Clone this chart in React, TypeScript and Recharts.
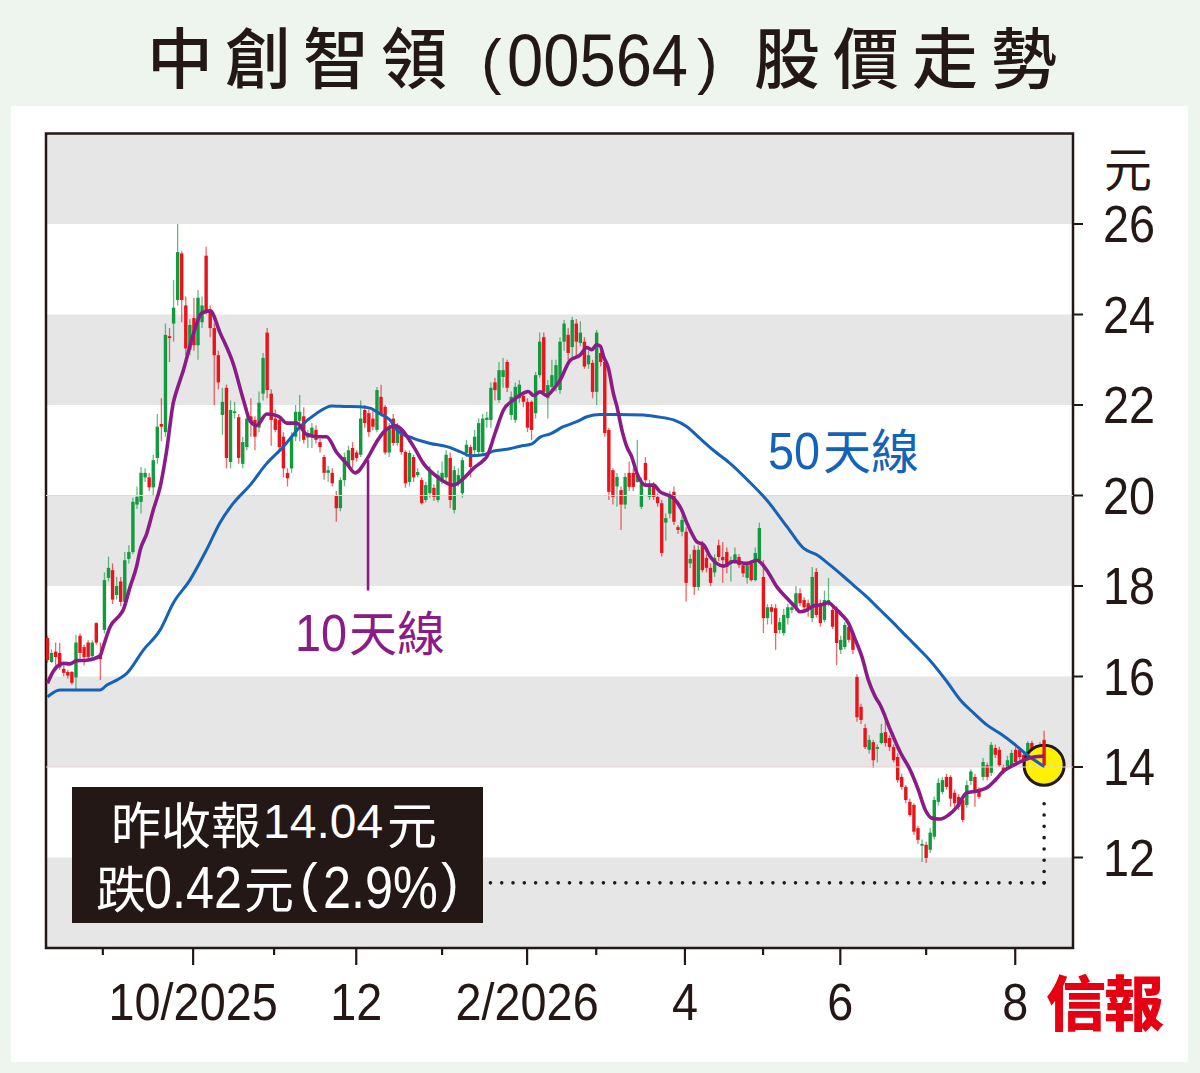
import React from 'react';
import { ComposedChart, Bar, Line, XAxis, YAxis, ReferenceArea, ReferenceLine } from 'recharts';

// Daily candles: [open, high, low, close]
const ohlc: number[][] = [
  [16.85,16.9,16.3,16.36],[16.32,16.6,16.3,16.52],[16.55,16.75,16.14,16.43],[16.52,16.74,16.15,16.2],[16.17,16.25,16.0,16.08],
  [16.1,16.15,15.95,16.02],[16.1,16.12,15.82,15.86],[15.98,16.92,15.7,16.75],[16.9,16.95,16.4,16.52],[16.65,16.7,16.25,16.43],
  [16.75,16.8,16.35,16.43],[16.45,16.8,16.4,16.75],[17.18,17.2,16.7,16.75],[16.5,16.75,15.92,16.38],[17.03,18.3,16.95,18.13],
  [18.18,18.65,18.1,18.4],[18.35,18.5,17.6,17.7],[17.8,18.2,17.7,18.0],[18.1,18.2,17.55,17.65],[17.65,18.75,17.5,18.57],
  [18.6,18.9,18.5,18.75],[18.75,19.95,18.7,19.86],[19.8,20.2,19.7,19.97],[19.86,20.63,19.6,20.5],[20.4,20.6,20.3,20.5],
  [20.4,20.5,20.1,20.18],[20.18,20.9,20.0,20.78],[20.83,21.8,20.7,21.52],[21.58,22.15,21.2,21.52],[21.4,23.8,21.3,23.55],
  [23.52,23.7,22.95,23.48],[23.8,24.76,23.4,24.15],[24.32,26.0,24.2,25.38],[25.35,25.4,23.83,24.32],[24.2,24.4,23.1,23.25],
  [23.22,23.9,23.1,23.77],[23.92,24.37,23.2,23.32],[23.32,24.54,23.0,24.37],[23.83,24.4,23.7,24.2],[25.3,25.5,24.0,24.1],
  [24.1,24.2,23.5,23.7],[23.7,23.8,22.0,23.1],[23.1,23.2,22.35,22.5],[21.78,22.38,21.34,22.07],[22.38,22.45,20.6,20.83],
  [20.74,22.1,20.6,21.89],[21.82,22.07,21.7,21.86],[21.73,21.8,20.7,20.83],[20.7,21.3,20.6,21.18],[21.07,21.95,21.0,21.7],
  [21.75,22.15,21.3,21.6],[21.67,21.75,21.0,21.3],[21.5,22.3,21.4,22.05],[22.25,23.15,22.1,23.04],[23.6,23.7,22.15,22.33],
  [22.25,22.35,21.1,21.67],[21.7,21.9,21.4,21.45],[21.67,21.7,20.95,21.07],[21.3,21.4,20.4,20.6],[20.5,20.6,20.2,20.38],
  [20.6,21.4,20.5,21.3],[21.3,22.0,21.2,21.85],[21.65,22.22,21.2,21.85],[21.75,21.95,21.15,21.23],[21.28,21.45,21.05,21.38],
  [21.3,21.6,21.05,21.5],[21.45,21.55,21.15,21.23],[21.18,21.25,20.95,21.07],[20.85,20.9,20.35,20.5],[20.5,20.65,20.3,20.56],
  [20.5,20.6,20.2,20.27],[20.0,20.1,19.42,19.72],[19.72,20.4,19.65,20.34],[20.34,20.95,20.2,20.85],[20.67,21.1,20.6,21.0],
  [21.05,21.18,20.6,20.78],[20.95,21.0,20.75,20.83],[20.9,22.1,20.85,21.7],[21.89,22.0,21.5,21.6],[21.82,21.9,21.3,21.4],
  [21.7,21.9,21.45,21.52],[21.45,22.4,21.4,22.33],[22.18,22.45,21.75,21.8],[21.96,22.0,20.9,20.95],[20.95,21.6,20.85,21.5],
  [21.7,21.8,21.1,21.16],[21.16,21.6,21.1,21.5],[21.45,21.5,20.9,20.96],[20.96,21.0,20.17,20.27],[20.3,21.0,20.2,20.94],
  [20.85,20.9,20.3,20.4],[20.45,20.6,20.4,20.52],[20.34,20.4,19.8,19.83],[19.9,20.3,19.85,20.23],[20.05,20.65,19.95,20.56],
  [20.17,20.25,19.88,19.97],[19.9,20.56,19.85,20.45],[20.3,20.75,20.25,20.5],[20.4,21.0,20.3,20.9],[20.83,20.95,19.72,19.9],
  [19.68,20.65,19.6,20.56],[20.3,20.6,20.2,20.45],[20.05,20.85,19.95,20.78],[20.94,21.23,20.85,21.12],[21.07,21.12,20.4,20.63],
  [21.0,21.45,20.9,21.3],[20.96,21.7,20.9,21.6],[20.96,21.8,20.9,21.7],[21.67,21.85,21.5,21.72],[21.67,22.5,21.5,22.38],
  [22.5,22.6,22.1,22.33],[22.11,22.95,22.05,22.77],[22.62,23.04,22.38,22.77],[22.95,23.0,22.29,22.38],[21.78,22.3,21.67,22.18],
  [21.67,22.5,21.6,22.4],[22.15,22.55,22.05,22.45],[22.2,22.3,21.95,22.07],[22.07,22.15,21.4,21.5],[22.07,22.1,21.23,21.45],
  [21.82,22.73,21.7,22.66],[22.66,23.6,22.6,23.4],[23.5,23.6,22.2,22.29],[22.15,22.55,21.7,22.44],[22.4,23.0,22.3,22.66],
  [22.44,23.0,22.3,22.88],[22.33,23.5,22.25,23.4],[23.4,23.88,23.2,23.8],[23.55,23.7,23.0,23.15],[23.28,23.95,23.0,23.88],
  [23.8,23.9,23.05,23.4],[23.37,23.85,23.3,23.6],[23.4,23.5,22.8,22.85],[22.9,23.2,22.8,23.1],[22.93,23.0,22.15,22.29],
  [22.29,23.66,22.0,23.6],[23.15,23.3,22.85,22.95],[22.95,23.0,21.3,21.38],[21.45,21.5,19.9,20.08],[20.56,20.6,19.8,19.97],
  [20.2,20.5,19.75,20.41],[20.12,20.2,19.24,19.8],[19.8,20.5,19.7,20.41],[20.5,20.75,20.1,20.19],[20.5,20.6,20.1,20.19],
  [20.3,21.23,20.28,20.5],[19.75,20.4,19.7,20.27],[20.72,20.85,20.2,20.34],[19.97,20.35,19.9,20.23],[20.23,20.3,19.9,19.97],
  [19.97,20.05,19.75,19.83],[19.83,19.9,18.65,18.73],[19.4,19.6,19.0,19.5],[19.6,20.1,19.5,19.97],[20.08,20.2,19.35,19.42],
  [19.3,19.35,19.15,19.24],[19.2,19.55,19.1,19.46],[19.2,19.3,17.65,18.07],[18.5,18.7,18.4,18.6],[18.8,18.9,17.8,17.98],
  [17.98,18.9,17.9,18.8],[18.9,19.0,18.3,18.35],[18.62,18.7,18.3,18.4],[18.4,18.5,18.0,18.07],[18.3,18.7,18.2,18.62],
  [18.9,19.02,18.55,18.64],[18.64,18.97,18.07,18.57],[18.75,18.85,18.28,18.42],[18.5,18.65,18.1,18.57],[18.57,18.85,18.5,18.7],
  [18.64,18.7,18.4,18.46],[18.46,18.5,18.2,18.28],[18.18,18.5,18.05,18.46],[18.5,18.55,18.1,18.13],[18.13,18.85,18.1,18.73],
  [18.57,19.4,18.5,19.28],[18.2,18.57,16.96,17.29],[17.29,17.6,17.15,17.53],[17.53,17.6,17.15,17.43],[17.51,17.6,16.59,16.96],
  [17.03,17.3,16.95,17.2],[16.96,17.5,16.9,17.36],[17.29,17.6,17.15,17.53],[17.47,17.6,17.4,17.53],[17.53,18.0,17.45,17.84],
  [17.84,17.95,17.55,17.62],[17.69,17.75,17.45,17.53],[17.62,17.7,17.32,17.47],[17.29,18.42,17.2,18.2],[18.31,18.4,17.3,17.36],
  [17.62,17.7,17.1,17.18],[17.25,17.9,17.2,17.69],[17.62,18.18,17.55,17.69],[17.47,17.55,17.05,17.1],[17.47,17.55,16.25,16.74],
  [16.59,16.9,16.5,16.81],[16.65,17.2,16.6,17.14],[17.1,17.15,16.75,16.81],[16.96,17.0,16.5,16.59],[15.99,16.05,15.0,15.1],
  [15.33,15.4,14.95,15.04],[14.86,14.95,14.4,14.44],[14.38,14.7,14.3,14.6],[14.55,14.6,13.98,14.15],[14.4,14.5,14.1,14.44],
  [14.53,14.95,14.5,14.75],[14.77,15.2,14.45,14.53],[14.64,14.7,14.35,14.44],[14.44,14.5,14.1,14.15],[14.22,14.3,13.65,13.71],
  [13.78,13.85,13.5,13.56],[13.56,13.6,13.2,13.27],[13.23,13.3,12.9,12.94],[13.16,13.2,12.5,12.57],[12.65,12.7,12.3,12.39],
  [12.26,12.4,11.9,12.3],[12.28,12.35,11.88,11.99],[12.17,12.65,12.1,12.55],[12.46,13.35,12.4,13.27],[13.23,13.75,13.15,13.65],
  [13.45,13.78,13.4,13.71],[13.78,13.85,13.5,13.56],[13.78,13.82,13.12,13.3],[13.43,13.5,13.1,13.2],[13.34,13.4,13.05,13.12],
  [13.27,13.3,12.78,12.83],[13.16,13.7,13.1,13.6],[13.69,13.95,13.6,13.9],[13.78,13.85,13.12,13.43],[13.49,13.55,13.3,13.34],
  [13.78,14.2,13.7,14.11],[14.04,14.1,13.7,13.78],[13.87,14.55,13.8,14.49],[14.42,14.5,14.2,14.27],[14.38,14.45,14.0,14.04],
  [14.0,14.05,13.85,13.9],[14.0,14.25,13.95,14.15],[14.04,14.38,14.0,14.31],[14.38,14.45,14.05,14.11],[14.38,14.42,14.15,14.22],
  [14.27,14.33,14.05,14.11],[14.2,14.57,14.15,14.53],[14.53,14.58,14.28,14.33],[14.42,14.48,14.2,14.27],[14.27,14.55,14.22,14.46],
  [14.6,14.8,13.98,14.04],
];

// 10-day moving average: [day, value]
const ma10Pts: number[][] = [
  [0,15.85],[1.4,16.11],[3.9,16.29],[5.5,16.28],[7.2,16.35],[9.6,16.36],[12.9,16.45],[13.7,16.66],[15.4,17.1],[17.8,17.36],
  [18.6,17.47],[20.3,17.98],[21.9,18.43],[22.8,18.8],[24.4,19.16],[26,19.68],[27.7,20.19],[29.3,21.0],[30.9,22.04],[31.8,22.33],
  [33.4,22.77],[35.9,23.58],[37.9,24.03],[40,24.08],[42.4,23.6],[45.7,22.9],[48.2,22.1],[49.8,21.65],[51.4,21.55],[53.9,21.8],
  [56.8,21.75],[58.8,21.6],[61.3,21.6],[63.7,21.35],[66.2,21.3],[68.6,21.3],[71.1,20.95],[73.6,20.7],[75.6,20.5],[78.5,20.8],
  [81,21.2],[82.6,21.4],[85.5,21.54],[90,21.08],[92.4,20.71],[95.7,20.42],[99.8,20.23],[102.3,20.38],[104.7,20.6],[107.2,20.78],
  [108,20.86],[110,21.37],[112.1,21.89],[114.5,22.11],[117,22.26],[118.2,22.3],[119.5,22.21],[121.1,22.29],[122.7,22.21],[124.4,22.35],
  [126,22.55],[128.5,22.99],[130.9,23.1],[132.6,23.27],[133.8,23.22],[135,23.33],[135.9,23.3],[136.7,23.07],[137.9,22.81],[139.1,22.26],
  [140,21.96],[141.2,21.45],[142.4,21.08],[143.6,20.86],[144.9,20.49],[145.7,20.34],[146.9,20.23],[149,20.23],[150.6,20.08],[151.8,20.03],
  [153.5,19.97],[154.7,19.86],[155.9,19.68],[157.2,19.39],[158.4,19.16],[159.6,18.98],[161.3,18.91],[162.9,18.65],[164.5,18.5],[166.2,18.44],
  [168.6,18.54],[171.9,18.5],[174.4,18.57],[176.8,18.35],[179.3,17.98],[181.8,17.73],[183.8,17.54],[185,17.43],[186.7,17.47],[188.3,17.56],
  [190,17.58],[192,17.63],[193.6,17.51],[195.3,17.36],[196.9,17.18],[198.6,16.81],[200.2,16.44],[201.8,15.92],[203.5,15.55],[204.7,15.37],
  [207.2,14.82],[209.6,14.33],[212.1,13.93],[214.1,13.49],[215.8,13.05],[217.4,12.87],[219.5,12.85],[221.5,12.94],[223.6,13.12],[226,13.43],
  [228.5,13.47],[230.9,13.54],[233,13.71],[235,13.91],[237.5,14.04],[240,14.15],[242.4,14.22],[245,14.24],
];

// 50-day moving average: [day, value]
const ma50Pts: number[][] = [
  [0,15.55],[1,15.62],[3.1,15.7],[12.9,15.7],[14.6,15.81],[17,15.92],[19.5,16.07],[23.6,16.59],[27.7,17.03],[30.9,17.62],
  [35,18.13],[39.1,18.8],[42.4,19.4],[45.7,19.83],[49.8,20.23],[53.9,20.71],[58,21.08],[62.1,21.52],[66.2,21.82],[69.9,21.98],
  [71.9,21.97],[76.8,21.96],[79.3,21.93],[81.8,21.8],[84.2,21.67],[85.9,21.45],[90,21.26],[94.1,21.15],[98.2,21.08],[101.4,20.97],
  [103.9,20.88],[107.2,20.9],[109.6,20.98],[112.9,21.02],[116.2,21.09],[119.1,21.14],[121.1,21.29],[123.6,21.36],[126.8,21.52],[130.1,21.63],
  [132.6,21.74],[135.9,21.79],[140,21.79],[146.5,21.78],[149.8,21.74],[153.9,21.67],[157.2,21.52],[160.4,21.26],[163.7,21.0],[167.8,20.71],
  [172,20.35],[176.8,19.9],[181.8,19.31],[185.9,18.83],[189.1,18.69],[192.4,18.46],[195.7,18.21],[198.1,18.02],[201.4,17.76],[204.7,17.47],
  [208,17.18],[209.6,17.03],[213,16.72],[217,16.35],[221,15.9],[224.4,15.48],[227.7,15.19],[230.9,14.93],[234.2,14.74],[237.5,14.52],
  [240.8,14.27],[245,14.01],
];

// Month boundaries on the day axis and their labels
const monthTicks = [13.6, 35.8, 55.7, 75.9, 97.0, 117.9, 134.9, 156.7, 175.9, 194.9, 216.0, 237.9];
const monthLabels = ['', '10/2025', '', '12', '', '2/2026', '', '4', '', '6', '', '8'];
const priceTicks = [12, 14, 16, 18, 20, 22, 24, 26];
const grayBands = [[26, 28], [22, 24], [18, 20], [14, 16], [10, 12]];
const faintLines = [20, 14];

const lastDay = 245;
const lastClose = 14.04;
const pointer = { day: 78.8, top: 20.78, bottom: 17.9 };
const guide = { y: 11.44, startDay: 108.8, top: 13.27 };

const rows = ohlc.map((r, i) => ({ d: i, o: r[0], h: r[1], l: r[2], c: r[3], range: [r[2], r[1]] }));
const ma10 = ma10Pts.map(([d, v]) => ({ d, v }));
const ma50 = ma50Pts.map(([d, v]) => ({ d, v }));

const INK = '#231815';
const GREEN = '#129a3e';
const RED = '#e8141b';
const PURPLE = '#8b1c87';
const BLUE = '#1463b8';
const NUM = "'Liberation Sans', Arial, sans-serif";
const CJK = "'Noto Sans CJK TC', 'Noto Sans CJK SC', sans-serif";

function Candle(props: any) {
  const { x, y, width, height, payload } = props;
  if (x == null || y == null || !payload) return null;
  const top = Math.min(y, y + height);
  const bottom = Math.max(y, y + height);
  const { o, h, l, c, d } = payload;
  const span = h - l;
  const py = (v: number) => (span > 0 ? top + ((h - v) / span) * (bottom - top) : top);
  const cx = x + width / 2;
  const up = c >= o;
  const color = up ? GREEN : RED;
  const bt = py(Math.max(o, c));
  const bb = py(Math.min(o, c));
  return (
    <g>
      {d === lastDay && <circle cx={cx} cy={py(lastClose)} r={20} fill="#fff100" stroke={INK} strokeWidth={3} />}
      <line x1={cx} x2={cx} y1={top} y2={bottom} stroke={color} strokeWidth={1.3} strokeOpacity={0.65} />
      <rect x={cx - 1.7} y={bt} width={3.4} height={Math.max(bb - bt, 1.2)} fill={color} />
    </g>
  );
}

function XTick(props: any) {
  const { x, y, payload } = props;
  const idx = monthTicks.indexOf(payload.value);
  const label = idx >= 0 ? monthLabels[idx] : '';
  const major = label !== '';
  return (
    <g>
      <line x1={x} x2={x} y1={y} y2={y + (major ? 17 : 7)} stroke={INK} strokeWidth={2.2} />
      {major && (
        <text transform={`translate(${x},${y + 72}) scale(0.9,1)`} textAnchor="middle" fontSize={52} fill={INK} fontFamily={NUM}>
          {label}
        </text>
      )}
    </g>
  );
}

function YTick(props: any) {
  const { x, y, payload } = props;
  return (
    <text transform={`translate(${x},${y}) scale(0.9,1)`} dy="0.355em" textAnchor="start" fontSize={52} fill={INK} fontFamily={NUM}>
      {payload.value}
    </text>
  );
}

export default function App() {
  return (
    <div style={{ position: 'absolute', left: 0, top: 0, width: 1200, height: 1073, background: '#eef5ee', overflow: 'hidden' }}>
      <div style={{ position: 'absolute', left: 11, top: 106, width: 1177, height: 956, background: '#ffffff' }} />
      <div style={{ position: 'absolute', left: 0, top: 0 }}>
        <ComposedChart width={1200} height={1073} data={rows} margin={{ top: 133.5, right: 17, bottom: 65, left: 46 }}>
          {grayBands.map((b, i) => (
            <ReferenceArea key={'b' + i} y1={b[0]} y2={b[1]} fill="#e6e6e6" fillOpacity={1} stroke="none" ifOverflow="hidden" />
          ))}
          {faintLines.map((v) => (
            <ReferenceLine key={'f' + v} y={v} stroke="#f1cfd2" strokeWidth={1} />
          ))}
          <XAxis
            type="number"
            dataKey="d"
            domain={[-0.37, 252.1]}
            allowDataOverflow
            ticks={monthTicks}
            interval={0}
            tick={<XTick />}
            tickLine={false}
            axisLine={false}
            tickSize={0}
            tickMargin={0}
            height={60}
          />
          <YAxis
            orientation="right"
            type="number"
            domain={[10, 28]}
            allowDataOverflow
            ticks={priceTicks}
            interval={0}
            tick={<YTick />}
            tickLine={{ stroke: INK, strokeWidth: 2 }}
            axisLine={false}
            tickSize={10}
            tickMargin={20}
            width={110}
          />
          <Bar dataKey="range" shape={<Candle />} barSize={4} isAnimationActive={false} />
          <Line data={ma50} dataKey="v" type="monotone" stroke={BLUE} strokeWidth={3} dot={false} isAnimationActive={false} />
          <Line data={ma10} dataKey="v" type="monotone" stroke={PURPLE} strokeWidth={3.6} dot={false} isAnimationActive={false} />
          <ReferenceLine
            segment={[{ x: pointer.day, y: pointer.top }, { x: pointer.day, y: pointer.bottom }]}
            stroke={PURPLE}
            strokeWidth={2.6}
          />
          <ReferenceLine
            segment={[{ x: lastDay, y: guide.y }, { x: guide.startDay, y: guide.y }]}
            stroke={INK}
            strokeWidth={3.6}
            strokeDasharray="0 11.3"
            strokeLinecap="round"
          />
          <ReferenceLine
            segment={[{ x: lastDay, y: guide.y }, { x: lastDay, y: guide.top }]}
            stroke={INK}
            strokeWidth={3.6}
            strokeDasharray="0 11.3"
            strokeLinecap="round"
          />
          <ReferenceArea y1={10} y2={28} fill="none" stroke={INK} strokeWidth={2.5} ifOverflow="visible" />
        </ComposedChart>
      </div>
      <svg width={1200} height={1073} style={{ position: 'absolute', left: 0, top: 0, pointerEvents: 'none' }}>
        {/* title */}
        <text x={147} y={83} fontSize={66} fontWeight={500} fill={INK} fontFamily={CJK} style={{ letterSpacing: '12px' }}>中創智領</text>
        <text x={481} y={82} fontSize={62} fill={INK} fontFamily={NUM}>(</text>
        <text transform="translate(507,86) scale(0.88,1)" fontSize={74} fill={INK} fontFamily={NUM}>00564</text>
        <text x={697} y={82} fontSize={62} fill={INK} fontFamily={NUM}>)</text>
        <text x={754} y={83} fontSize={66} fontWeight={500} fill={INK} fontFamily={CJK} style={{ letterSpacing: '13px' }}>股價走勢</text>

        {/* unit */}
        <text x={1104} y={187} fontSize={48} fill={INK} fontFamily={CJK}>元</text>

        {/* MA labels */}
        <text transform="translate(768,469) scale(0.9,1)" fontSize={52} fill={BLUE} fontFamily={NUM}>50</text>
        <text x={823} y={469} fontSize={48} fill={BLUE} fontFamily={CJK}>天線</text>
        <text transform="translate(295,651) scale(0.9,1)" fontSize={52} fill={PURPLE} fontFamily={NUM}>10</text>
        <text x={349} y={651} fontSize={48} fill={PURPLE} fontFamily={CJK}>天線</text>

        {/* close box */}
        <rect x={72} y={787} width={411} height={136} fill={INK} />
        <text x={111} y={844} fontSize={50} fill="#ffffff" fontFamily={CJK}>昨收報</text>
        <text x={263} y={838} fontSize={48} fill="#ffffff" fontFamily={NUM}>14.04</text>
        <text x={387} y={844} fontSize={50} fill="#ffffff" fontFamily={CJK}>元</text>
        <text x={96} y={908} fontSize={50} fill="#ffffff" fontFamily={CJK}>跌</text>
        <text transform="translate(144,908) scale(0.84,1)" fontSize={60} fill="#ffffff" fontFamily={NUM}>0.42</text>
        <text x={244} y={908} fontSize={50} fill="#ffffff" fontFamily={CJK}>元</text>
        <text x={300} y={901} fontSize={53} fill="#ffffff" fontFamily={NUM}>(</text>
        <text transform="translate(323,908) scale(0.84,1)" fontSize={60} fill="#ffffff" fontFamily={NUM}>2.9%</text>
        <text x={441} y={901} fontSize={53} fill="#ffffff" fontFamily={NUM}>)</text>

        {/* logo */}
        <text x={1046} y={1026} fontSize={60} fontWeight={900} fill="#e60012" fontFamily={CJK} style={{ letterSpacing: '-2px' }}>信報</text>
      </svg>
    </div>
  );
}
